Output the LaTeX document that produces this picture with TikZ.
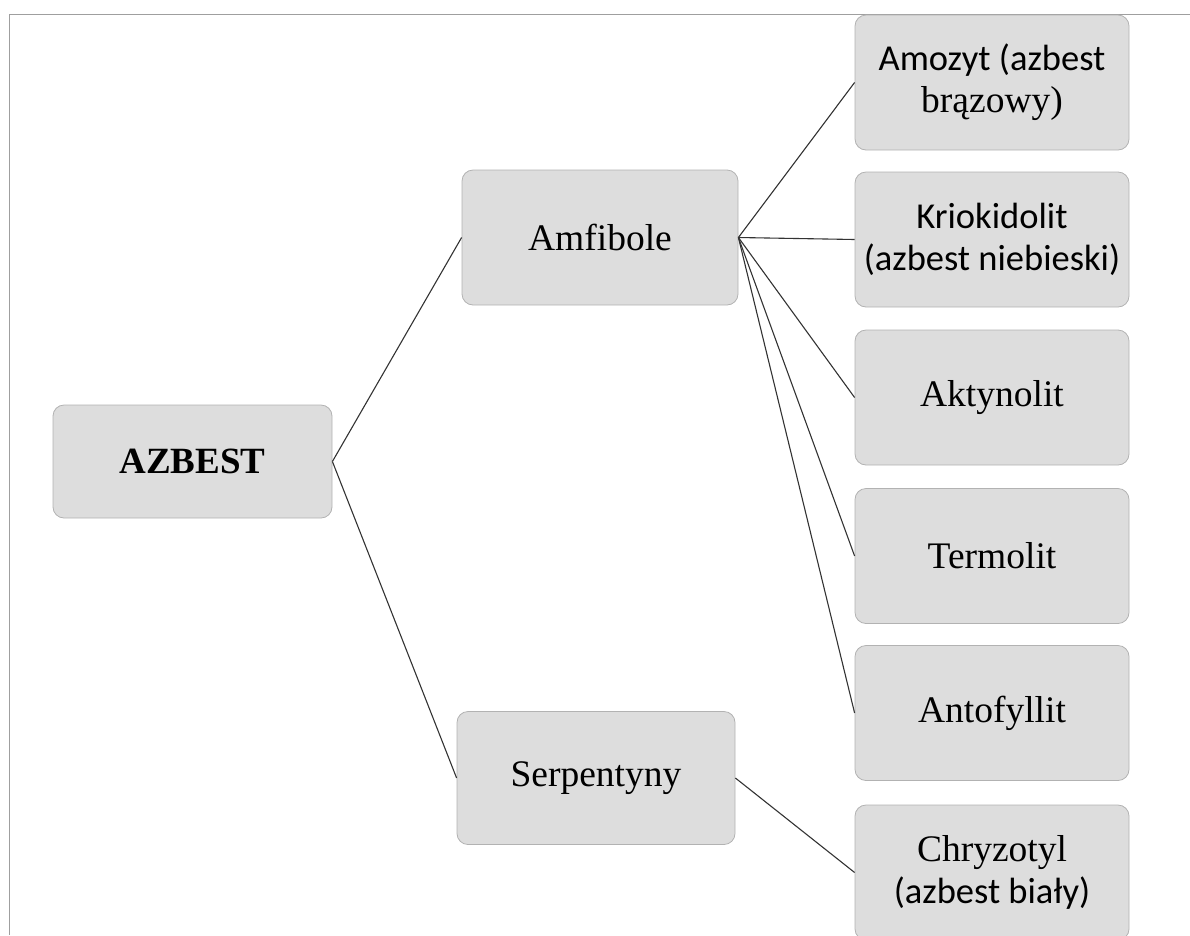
\documentclass[tikz,border=0pt]{standalone}
\usepackage{fontspec}
\setmainfont{Liberation Serif}
\newfontfamily\calibrifont{Carlito}
\newcommand{\calsize}{\fontsize{36.5}{42}\selectfont}
\begin{document}
\begin{tikzpicture}[x=1pt,y=-1pt,
  box/.style={draw=gray!60, fill=gray!27, rounded corners=11pt, line width=0.8pt,
    minimum width=274pt, minimum height=135pt, inner sep=0pt, align=center,
    font=\fontsize{37.5}{42}\selectfont},
  link/.style={draw=black!80, line width=1.1pt},
  frame/.style={draw=gray!75, line width=1pt}]
\useasboundingbox (0,0) rectangle (1190,935);
% frame
\coordinate (f1) at (1190,14);
\coordinate (f2) at (9,14);
\coordinate (f3) at (9,935);
\draw[frame] (f1) -- (f2) -- (f3);
% nodes
\node[box, minimum width=279pt, minimum height=113pt, font=\fontsize{37}{42}\selectfont\bfseries] (azb) at (192.5,461.5) {AZBEST};
\node[box, minimum width=276pt] (amf) at (600,237.5) {Amfibole};
\node[box, minimum width=278pt, minimum height=133pt] (ser) at (596,778) {Serpentyny};
\node[box] (amo) at (992,82.5) {{\calibrifont\calsize Amozyt (azbest}\\brązowy)};
\node[box] (kri) at (992,239.5) {\calibrifont\calsize Kriokidolit\\\calibrifont\calsize(azbest niebieski)};
\node[box] (akt) at (992,397.5) {Aktynolit};
\node[box] (ter) at (992,556) {Termolit};
\node[box] (ant) at (992,713) {Antofyllit};
\node[box] (chr) at (992,872.5) {Chryzotyl\\\calibrifont\calsize(azbest biały)};
% connectors
\draw[link] (azb.east) -- (amf.west);
\draw[link] (azb.east) -- (ser.west);
\foreach \t in {amo,kri,akt,ter,ant}
  \draw[link] (amf.east) -- (\t.west);
\draw[link] (ser.east) -- (chr.west);
\end{tikzpicture}
\end{document}
